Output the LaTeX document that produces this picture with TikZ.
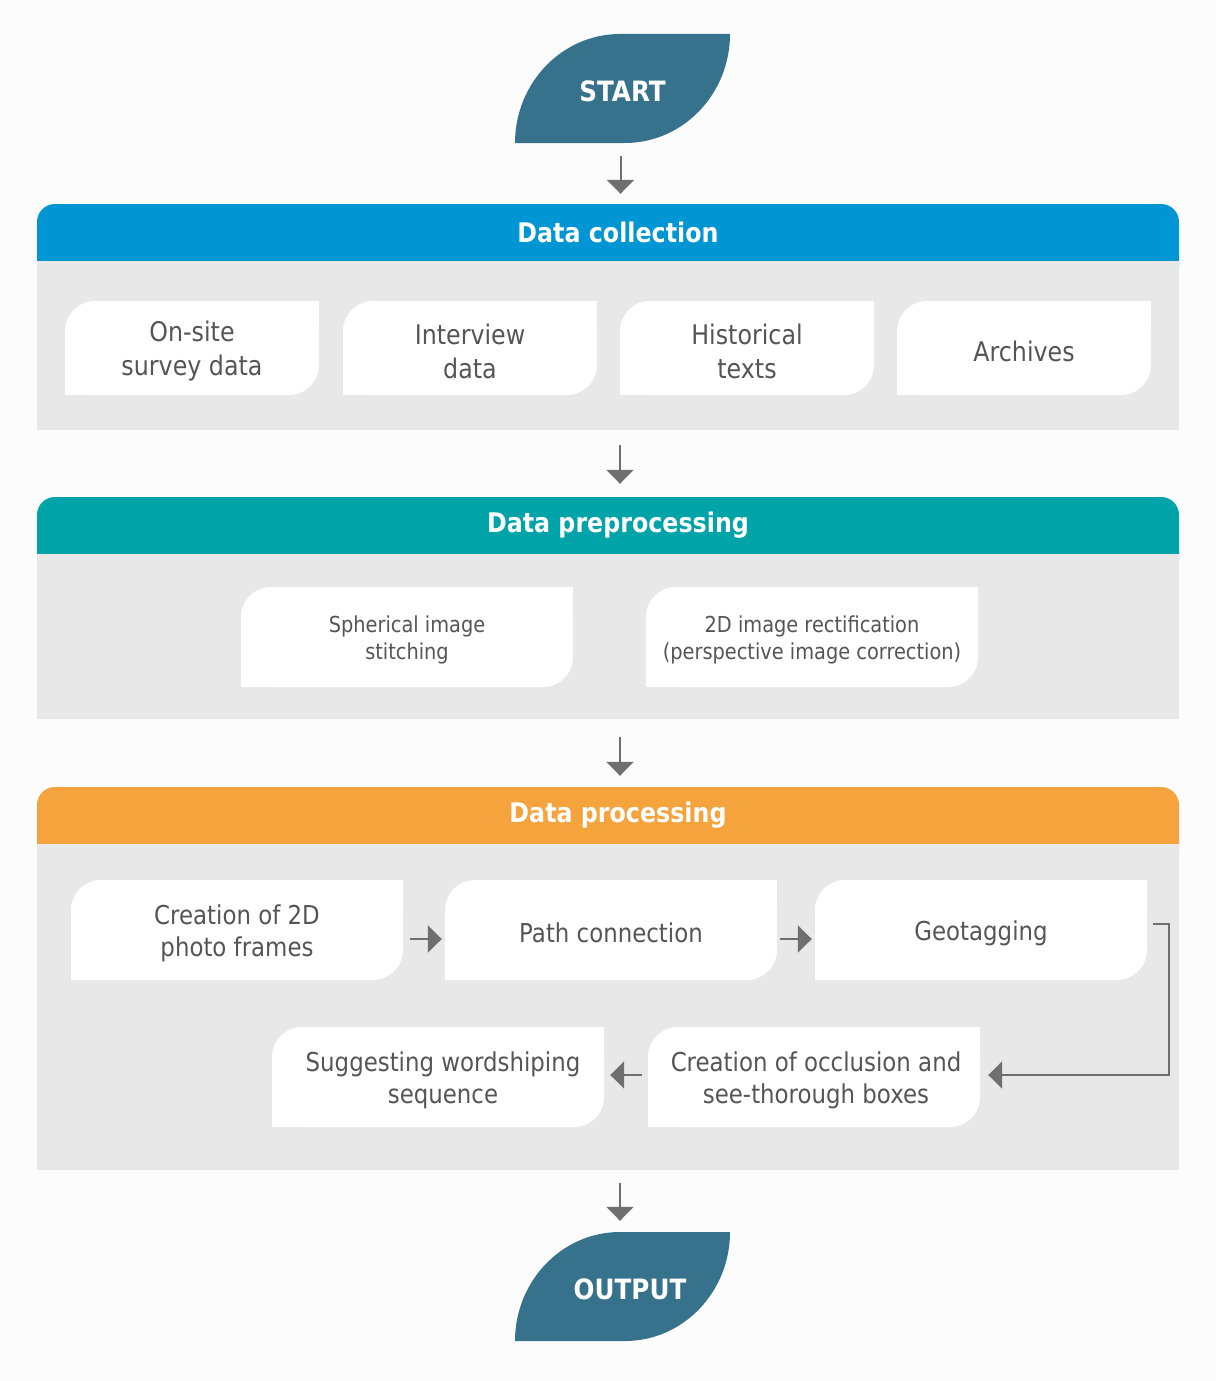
\documentclass[tikz,border=0pt]{standalone}
\usepackage{fontspec}
\setmainfont{DejaVu Sans}[FakeStretch=0.88]
\usetikzlibrary{arrows.meta}
\definecolor{bgc}{HTML}{FCFCFC}
\definecolor{panelc}{HTML}{E8E8E8}
\definecolor{bluec}{HTML}{0095D3}
\definecolor{tealc}{HTML}{00A4A8}
\definecolor{orangec}{HTML}{F4A33D}
\definecolor{leafc}{HTML}{37728D}
\definecolor{txtc}{HTML}{555555}
\definecolor{arrc}{HTML}{6F6F6F}
\tikzset{
  boxtext/.style={text=txtc, align=center, inner sep=0pt},
  bigtext/.style={boxtext, font=\fontsize{27}{34}\selectfont},
  midtext/.style={boxtext, font=\fontsize{26}{32}\selectfont},
  smalltext/.style={boxtext, font=\fontsize{22}{27}\selectfont},
  hdrtext/.style={text=white, inner sep=0pt, font=\bfseries\fontsize{27}{32}\selectfont},
  leaftext/.style={text=white, inner sep=0pt, font=\bfseries\fontsize{28}{32}\selectfont},
  arr/.style={draw=arrc, line width=2pt, -{Triangle[width=27pt,length=14pt]}},
  conn/.style={draw=arrc, line width=2pt}
}
% name, x1, y1, x2, y2, style, text
\newcommand\wbox[7]{%
  \fill[white, rounded corners=30pt] (#2,#3) rectangle (#4,#5);
  \fill[white] (#4,#3) rectangle ++(-32,32);
  \fill[white] (#2,#5) rectangle ++(32,-32);
  \node[#6, minimum width={#4pt-#2pt}, minimum height={#5pt-#3pt}] (#1) at ({(#2+#4)/2},{(#3+#5)/2+3}) {#7};
}
% name, x1, y1, x2, y2, text
\newcommand\leafshape[6]{%
  \fill[leafc] (#2,#5) .. controls (#2,#5-60) and (#2+47,#3) .. (#2+105,#3) -- (#4,#3)
     .. controls (#4,#3+60) and (#4-47,#5) .. (#4-105,#5) -- cycle;
  \node[leaftext, minimum width={#4pt-#2pt}, minimum height={#5pt-#3pt}] (#1) at ({(#2+#4)/2},{(#3+#5)/2+3}) {#6};
}
% name, y1 (header top), y2 (header bottom), y3 (panel bottom), colour, text
\newcommand\panel[6]{%
  \fill[#5, rounded corners=18pt] (37,#2) rectangle (1179,#3+25);
  \node[fill=panelc, inner sep=0pt, minimum width=1142pt, minimum height={#4pt-#3pt}] (#1body) at (608,{(#3+#4)/2}) {};
  \node[inner sep=0pt, minimum width=1142pt, minimum height={#3pt-#2pt}] (#1head) at (608,{(#2+#3)/2}) {};
  \node[hdrtext] (#1title) at (618,{(#2+#3)/2}) {#6};
}
\begin{document}
\begin{tikzpicture}[x=1pt,y=-1pt]
\fill[bgc] (0,0) rectangle (1216,1381);
\useasboundingbox (0,0) rectangle (1216,1381);

% start
\leafshape{start}{515}{34}{730}{143}{START}

% panels
\panel{dc}{204}{261}{430}{bluec}{Data collection}
\panel{pp}{497}{554}{719}{tealc}{Data preprocessing}
\panel{pr}{787}{844}{1170}{orangec}{Data processing}

% data collection boxes
\wbox{on}{65}{301}{319}{395}{bigtext}{On-site\\survey data}
\wbox{iv}{343}{301}{597}{395}{bigtext}{Interview\\data}
\wbox{hi}{620}{301}{874}{395}{bigtext}{Historical\\texts}
\wbox{ar}{897}{301}{1151}{395}{bigtext}{Archives}

% preprocessing boxes
\wbox{sp}{241}{587}{573}{687}{smalltext}{Spherical image\\stitching}
\wbox{rc}{646}{587}{978}{687}{smalltext}{2D image rectification\\(perspective image correction)}

% processing boxes
\wbox{cf}{71}{880}{403}{980}{midtext}{Creation of 2D\\photo frames}
\wbox{pc}{445}{880}{777}{980}{midtext}{Path connection}
\wbox{gt}{815}{880}{1147}{980}{midtext}{Geotagging}
\wbox{sw}{272}{1027}{604}{1127}{midtext}{\hspace*{10pt}Suggesting wordshiping\\\hspace*{10pt}sequence}
\wbox{oc}{648}{1027}{980}{1127}{midtext}{\hspace*{4pt}Creation of occlusion and\\\hspace*{4pt}see-thorough boxes}

% output
\leafshape{out}{515}{1232}{730}{1341}{\hspace*{15pt}OUTPUT}

% vertical arrows
\draw[arr, shorten <=10pt, shorten >=10pt] ([xshift=-2pt]start.south) -- ([xshift=-2pt]start.south |- dchead.north);
\draw[arr, shorten <=15pt, shorten >=13pt] ([xshift=12pt]dcbody.south) -- ([xshift=12pt]pphead.north);
\draw[arr, shorten <=18pt, shorten >=11pt] ([xshift=12pt]ppbody.south) -- ([xshift=12pt]prhead.north);
\draw[arr, shorten <=13pt, shorten >=14pt] ([xshift=12pt]prbody.south) -- ([xshift=-2.5pt]out.north);

% horizontal arrows
\draw[arr, shorten <=7pt, shorten >=3pt] ([yshift=-6pt]cf.east) -- ([yshift=-6pt]pc.west);
\draw[arr, shorten <=3pt, shorten >=3pt] ([yshift=-6pt]pc.east) -- ([yshift=-6pt]gt.west);
\draw[arr, shorten <=6pt, shorten >=6pt] ([yshift=5pt]oc.west) -- ([yshift=5pt]sw.east);

% connector from geotagging to occlusion
\coordinate (bend) at (1169,924);
\draw[arr, shorten >=8pt] ([xshift=6pt,yshift=9pt]gt.east) -- (bend) |- ([yshift=5pt]oc.east);
\end{tikzpicture}
\end{document}
